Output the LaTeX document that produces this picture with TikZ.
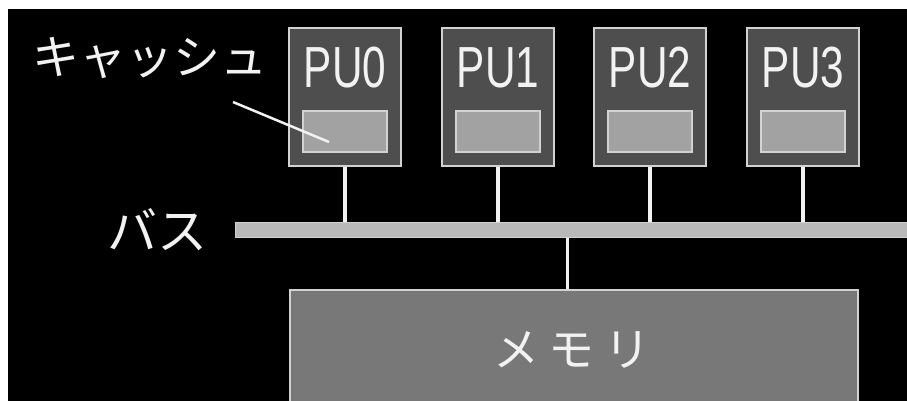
\documentclass[tikz,border=0pt]{standalone}
\usepackage{fontspec}
\newfontfamily\jpfont{Noto Sans CJK JP}
\newfontfamily\pufont[FakeStretch=0.73]{Liberation Sans}
\definecolor{puFill}{HTML}{4E4E4E}
\definecolor{cacheFill}{HTML}{A2A2A2}
\definecolor{busFill}{HTML}{B9B9B9}
\definecolor{memFill}{HTML}{787878}
\definecolor{edge}{HTML}{D2D2D2}
\definecolor{ink}{HTML}{F2F2F2}
\begin{document}
\begin{tikzpicture}[x=1pt,y=-1pt,
  pubox/.style={draw=edge,fill=puFill,line width=1.4pt,minimum width=112pt,minimum height=138pt,inner sep=0pt},
  cachebox/.style={draw=edge,fill=cacheFill,line width=1.4pt,minimum width=84pt,minimum height=41pt,inner sep=0pt},
  pulabel/.style={text=ink,font=\pufont\fontsize{58}{58}\selectfont,inner sep=0pt},
  jplabel/.style={text=ink,font=\jpfont\fontsize{47}{47}\selectfont,inner sep=0pt},
  stem/.style={draw=ink,line width=3.5pt},
  leader/.style={draw=ink,line width=2.5pt}]
  % page and black backdrop
  \useasboundingbox (0,0) rectangle (907,400);
  \fill[white] (0,0) rectangle (907,400);
  \fill[black] (8,9) rectangle (910,405);

  % processing units with their caches
  \foreach \i/\x in {0/345,1/498,2/650,3/803}{
    \node[pubox] (pu\i) at (\x,97) {};
    \node[pulabel] (pl\i) at (\x,68) {PU\i};
    \node[cachebox] (c\i) at (\x,131.5) {};
  }

  % shared bus
  \node[draw=edge,fill=busFill,line width=1pt,minimum width=680pt,minimum height=15pt,inner sep=0pt,anchor=west] (bus) at (235,229.5) {};

  % main memory
  \node[draw=edge,fill=memFill,line width=1.4pt,minimum width=568pt,minimum height=120pt,inner sep=0pt] (mem) at (574,350) {};
  \node[text=ink,font=\jpfont\fontsize{46}{46}\selectfont,inner sep=0pt] (memlabel) at (572,350) {メ\hspace{10pt}モ\hspace{10pt}リ};

  % bus connections
  \foreach \i in {0,1,2,3}{
    \draw[stem] (pu\i.south) -- (pu\i.south |- bus.north);
  }
  \path (mem.north) ++(-7,0) coordinate (memtap);
  \draw[stem,line width=3pt] (memtap) -- (memtap |- bus.south);

  % labels
  \node[jplabel] (cachelabel) at (150,58) {キャッシュ};
  \node[jplabel,font=\jpfont\fontsize{50}{50}\selectfont] (buslabel) at (157,230) {バス};
  \coordinate (leadstart) at (233,102);
  \coordinate (leadend) at (329,142);
  \draw[leader] (leadstart) -- (leadend);
\end{tikzpicture}
\end{document}
